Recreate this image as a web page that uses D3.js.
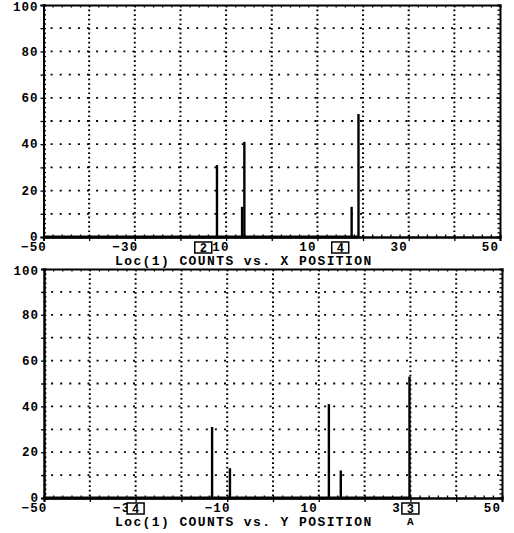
<!DOCTYPE html>
<html>
<head>
<meta charset="utf-8">
<script src="https://cdn.jsdelivr.net/npm/d3@7"></script>
<style>
  body { margin: 0; background: #fff; }
  svg text { font-family: "Liberation Mono", "DejaVu Sans Mono", monospace; font-weight: bold; fill: #000; }
</style>
</head>
<body>
<div id="chart"></div>
<script>
// histogram data
const xPositions = [-12, -6.5, -6, 17.5, 19]
const xCounts = [31, 13, 41, 13, 53]
const yPositions = [-13.3, -9.4, 12.2, 14.8, 29.8]
const yCounts = [31, 13, 41, 12, 53]

const xTickLabels = [-50, -30, -10, 10, 30, 50]
const yTickLabels = [0, 20, 40, 60, 80, 100]

// cursor boxes under the axis
const xMarkers = [{ at: -15, label: '2' }, { at: 15, label: '4' }]
const yMarkers = [{ at: -30, label: '4' }, { at: 30, label: '3' }]

const titles = ['Loc(1) COUNTS vs. X POSITION', 'Loc(1) COUNTS vs. Y POSITION']

const width = 514,
  height = 533

let svg = d3.select('#chart')
  .append('svg')
  .attr('width', width)
  .attr('height', height)

let drawPanel = (box, positions, counts, markers, title, extra) => {
  const x = d3.scaleLinear().domain([-50, 50]).range([box.left, box.right])
  const y = d3.scaleLinear().domain([0, 100]).range([box.bottom, box.top])
  const g = svg.append('g')

  // dotted grid
  g.selectAll('.vgrid')
    .data(d3.range(-40, 50, 10))
    .enter()
    .append('line')
    .attr('x1', d => x(d)).attr('x2', d => x(d))
    .attr('y1', box.top).attr('y2', box.bottom)
    .attr('stroke', '#000')
    .attr('stroke-width', 2)
    .attr('stroke-dasharray', '1.7,2.9')

  g.selectAll('.hgrid')
    .data(d3.range(10, 100, 10))
    .enter()
    .append('line')
    .attr('y1', d => y(d)).attr('y2', d => y(d))
    .attr('x1', box.left).attr('x2', box.right)
    .attr('stroke', '#000')
    .attr('stroke-width', 1.8)
    .attr('stroke-dasharray', '2,7.1')
    .attr('stroke-dashoffset', -7.1)

  // minor ticks on every side, pointing in
  const minorX = d3.range(-50, 51, 2)
  const minorY = d3.range(0, 101, 2)
  g.append('g').attr('transform', `translate(0,${box.bottom})`)
    .call(d3.axisBottom(x).tickValues(minorX).tickSize(-2.5).tickFormat(''))
  g.append('g').attr('transform', `translate(0,${box.top})`)
    .call(d3.axisTop(x).tickValues(minorX).tickSize(-2.5).tickFormat(''))
  g.append('g').attr('transform', `translate(${box.left},0)`)
    .call(d3.axisLeft(y).tickValues(minorY).tickSize(-2.5).tickFormat(''))
  g.append('g').attr('transform', `translate(${box.right},0)`)
    .call(d3.axisRight(y).tickValues(minorY).tickSize(-2.5).tickFormat(''))

  // major ticks with labels
  const xAxis = g.append('g').attr('transform', `translate(0,${box.bottom})`)
    .call(d3.axisBottom(x).tickValues(d3.range(-50, 51, 10)).tickSize(4)
      .tickFormat(d => xTickLabels.includes(d) ? d3.format('d')(d) : ''))
  xAxis.selectAll('text')
    .attr('dx', -10)
    .attr('dy', 0)
    .attr('y', 13.5)
    .style('font-size', '12.5px')
    .style('letter-spacing', '1.2px')

  const yAxis = g.append('g').attr('transform', `translate(${box.left},0)`)
    .call(d3.axisLeft(y).tickValues(d3.range(0, 101, 10)).tickSize(3)
      .tickFormat(d => yTickLabels.includes(d) ? d : ''))
  yAxis.selectAll('text')
    .attr('x', -5)
    .attr('dy', d => d === 100 ? '0.42em' : '0.3em')
    .style('font-size', '12.5px')
    .style('letter-spacing', '1px')

  g.selectAll('.domain').attr('stroke', '#000').attr('stroke-width', 2)
  g.selectAll('.tick line').attr('stroke', '#000').attr('stroke-width', 1.3)

  // zero-count trace up to the last bin
  g.append('line')
    .attr('x1', x(-50)).attr('x2', x(d3.max(positions)))
    .attr('y1', y(0)).attr('y2', y(0))
    .attr('stroke', '#000')
    .attr('stroke-width', 3)

  // counts
  g.selectAll('.bar')
    .data(positions)
    .enter()
    .append('line')
    .attr('x1', d => x(d)).attr('x2', d => x(d))
    .attr('y1', y(0))
    .attr('y2', (d, i) => y(counts[i]))
    .attr('stroke', '#000')
    .attr('stroke-width', 2.4)

  // cursor boxes
  const m = g.selectAll('.marker')
    .data(markers)
    .enter()
    .append('g')
    .attr('transform', d => `translate(${x(d.at)},${box.bottom + 5})`)
  m.append('rect')
    .attr('x', -8.5).attr('y', 0)
    .attr('width', 17).attr('height', 11)
    .attr('fill', '#fff')
    .attr('stroke', '#000')
    .attr('stroke-width', 1.5)
  m.append('text')
    .attr('y', 9.5)
    .attr('text-anchor', 'middle')
    .style('font-size', '12px')
    .text(d => d.label)

  if (extra) {
    g.append('text')
      .attr('x', x(extra.at))
      .attr('y', box.bottom + 27)
      .attr('text-anchor', 'middle')
      .style('font-size', '11px')
      .text(extra.label)
  }

  g.append('text')
    .attr('x', 115)
    .attr('y', box.bottom + 28)
    .style('font-size', '13px')
    .style('letter-spacing', '1.4px')
    .text(title)
}

drawPanel({ left: 43.5, right: 500, top: 5, bottom: 237 }, xPositions, xCounts, xMarkers, titles[0])
drawPanel({ left: 44, right: 502, top: 269, bottom: 498 }, yPositions, yCounts, yMarkers, titles[1], { at: 30, label: 'A' })
</script>
</body>
</html>
